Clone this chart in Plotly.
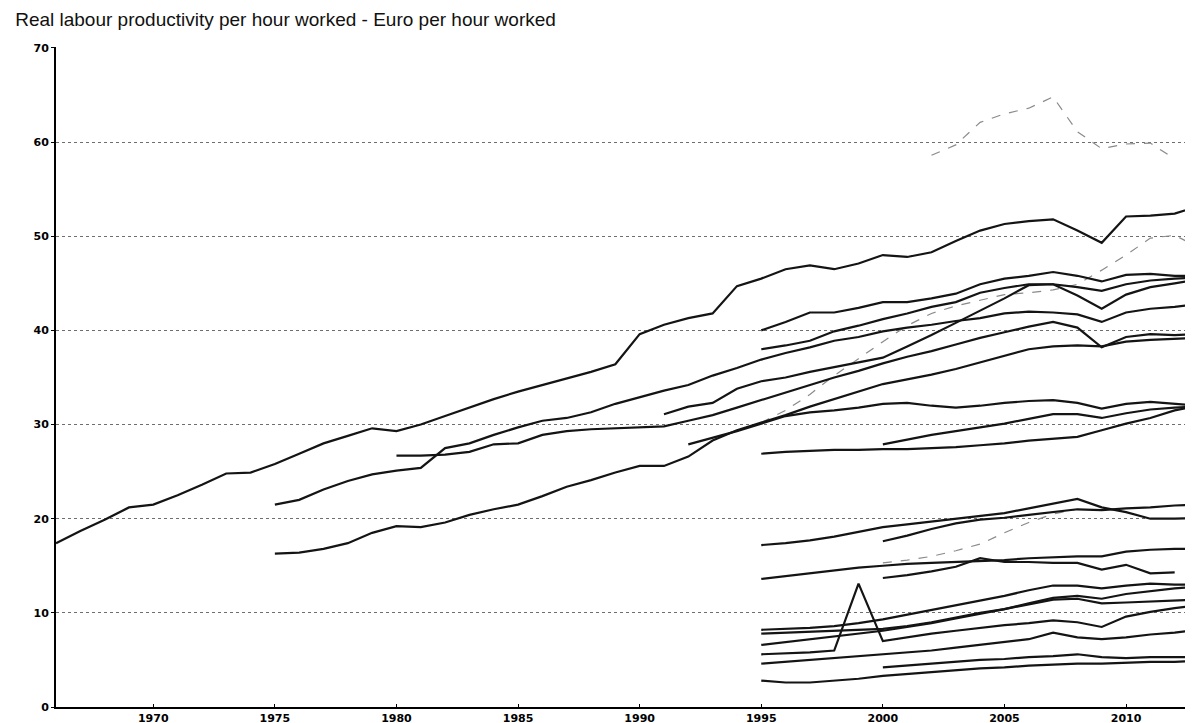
import plotly.graph_objects as go

# ─── DATA ─────────────────────────────────────────────
X_TICKS = [1970, 1975, 1980, 1985, 1990, 1995, 2000, 2005, 2010]
Y_TICKS = [0, 10, 20, 30, 40, 50, 60, 70]

# each series: first year + yearly values (Euro per hour worked)
a_start = 1966
a_vals = [17.4, 18.7, 19.9, 21.2, 21.5, 22.5, 23.6, 24.8, 24.9, 25.8,
          26.9, 28.0, 28.8, 29.6, 29.3, 30.0, 30.9, 31.8, 32.7, 33.5,
          34.2, 34.9, 35.6, 36.4, 39.6, 40.6, 41.3, 41.8, 44.7, 45.5,
          46.5, 46.9, 46.5, 47.1, 48.0, 47.8, 48.3, 49.5, 50.6, 51.3,
          51.6, 51.8, 50.6, 49.3, 52.1, 52.2, 52.4, 53.2]

b_start = 1995
b_vals = [40.0, 40.9, 41.9, 41.9, 42.4, 43.0, 43.0, 43.4, 43.9, 44.9,
          45.5, 45.8, 46.2, 45.8, 45.2, 45.9, 46.0, 45.8, 45.8]

c_start = 1995
c_vals = [38.0, 38.4, 38.9, 39.9, 40.5, 41.2, 41.8, 42.5, 43.0, 44.0,
          44.5, 44.9, 44.9, 44.6, 44.2, 44.9, 45.3, 45.5, 45.6]

d_start = 1975
d_vals = [21.5, 22.0, 23.1, 24.0, 24.7, 25.1, 25.4, 27.5, 28.0, 28.9,
          29.7, 30.4, 30.7, 31.3, 32.2, 32.9, 33.6, 34.2, 35.2, 36.0,
          36.9, 37.6, 38.2, 38.9, 39.3, 39.9, 40.3, 40.6, 41.0, 41.3,
          41.8, 42.0, 41.9, 41.7, 40.9, 41.9, 42.3, 42.5, 42.8]

s_start = 1991
s_vals = [31.1, 31.9, 32.3, 33.8, 34.6, 35.0, 35.6, 36.1, 36.6, 37.1,
          38.3, 39.5, 40.8, 42.1, 43.4, 44.8, 44.9, 43.7, 42.3, 43.8,
          44.6, 45.0, 45.4]

f_start = 1980
f_vals = [26.7, 26.7, 26.8, 27.1, 27.9, 28.0, 28.9, 29.3, 29.5, 29.6,
          29.7, 29.8, 30.4, 31.0, 31.8, 32.6, 33.4, 34.2, 35.0, 35.7,
          36.5, 37.2, 37.8, 38.5, 39.2, 39.8, 40.4, 40.9, 40.3, 38.2,
          39.3, 39.6, 39.5, 39.6]

g_start = 1975
g_vals = [16.3, 16.4, 16.8, 17.4, 18.5, 19.2, 19.1, 19.6, 20.4, 21.0,
          21.5, 22.4, 23.4, 24.1, 24.9, 25.6, 25.6, 26.6, 28.3, 29.4,
          30.2, 31.0, 31.9, 32.7, 33.5, 34.3, 34.8, 35.3, 35.9, 36.6,
          37.3, 38.0, 38.3, 38.4, 38.3, 38.8, 39.0, 39.1, 39.2]

t_start = 1992
t_vals = [27.9, 28.6, 29.3, 30.1, 30.9, 31.3, 31.5, 31.8, 32.2, 32.3,
          32.0, 31.8, 32.0, 32.3, 32.5, 32.6, 32.3, 31.7, 32.2, 32.4,
          32.2, 32.0]

u_start = 1995
u_vals = [26.9, 27.1, 27.2, 27.3, 27.3, 27.4, 27.4, 27.5, 27.6, 27.8,
          28.0, 28.3, 28.5, 28.7, 29.4, 30.1, 30.7, 31.5, 32.0]

v_start = 2000
v_vals = [27.9, 28.4, 28.9, 29.3, 29.7, 30.1, 30.6, 31.1, 31.1, 30.7,
          31.2, 31.6, 31.8, 31.9]

w_start = 2002  # light dashed, top
w_vals = [58.6, 59.7, 62.1, 63.0, 63.6, 64.8, 61.1, 59.3, 59.8, 59.9, 58.2]

i_start = 1995  # light dashed
i_vals = [30.2, 31.5, 33.2, 35.2, 37.0, 38.8, 40.5, 41.8, 42.6, 43.2,
          43.8, 44.0, 44.3, 44.9, 46.4, 48.0, 49.8, 50.1, 48.8]

h1_start = 1995
h1_vals = [17.2, 17.4, 17.7, 18.1, 18.6, 19.1, 19.4, 19.7, 20.0, 20.3,
           20.6, 21.1, 21.6, 22.1, 21.2, 20.7, 20.0, 20.0, 20.1]

h2_start = 2000
h2_vals = [17.6, 18.2, 18.9, 19.5, 19.9, 20.1, 20.4, 20.7, 21.0, 20.9,
           21.1, 21.2, 21.4, 21.5]

h3_start = 2000  # light dashed
h3_vals = [15.3, 15.6, 16.0, 16.6, 17.3, 18.5, 19.6, 20.5, 21.0]

h4_start = 1995
h4_vals = [13.6, 13.9, 14.2, 14.5, 14.8, 15.0, 15.2, 15.3, 15.4, 15.5,
           15.6, 15.8, 15.9, 16.0, 16.0, 16.5, 16.7, 16.8, 16.8]

h5_start = 2000
h5_vals = [13.7, 14.0, 14.4, 14.9, 15.8, 15.4, 15.4, 15.3, 15.3, 14.6,
           15.1, 14.2, 14.3]

l1_start = 1995
l1_vals = [8.2, 8.3, 8.4, 8.6, 8.9, 9.3, 9.8, 10.3, 10.8, 11.3,
           11.8, 12.4, 12.9, 12.9, 12.6, 12.9, 13.1, 13.0, 13.0]

l2_start = 1995
l2_vals = [7.8, 7.9, 8.0, 8.1, 8.2, 8.3, 8.6, 9.0, 9.5, 10.0,
           10.4, 10.9, 11.4, 11.5, 11.0, 11.1, 11.2, 11.3, 11.4]

l3_start = 1995
l3_vals = [6.6, 6.9, 7.2, 7.5, 7.8, 8.1, 8.5, 8.9, 9.4, 9.9,
           10.4, 11.0, 11.6, 11.8, 11.5, 12.0, 12.3, 12.6, 12.8]

l4_start = 1995  # the 1999 spike
l4_vals = [5.6, 5.7, 5.8, 6.0, 13.1, 7.0, 7.4, 7.8, 8.1, 8.4,
           8.7, 8.9, 9.2, 9.0, 8.5, 9.6, 10.1, 10.5, 10.8]

l5_start = 1995
l5_vals = [4.6, 4.8, 5.0, 5.2, 5.4, 5.6, 5.8, 6.0, 6.3, 6.6,
           6.9, 7.2, 7.9, 7.4, 7.2, 7.4, 7.7, 7.9, 8.2]

l6_start = 2000
l6_vals = [4.2, 4.4, 4.6, 4.8, 5.0, 5.1, 5.3, 5.4, 5.6, 5.3,
           5.2, 5.3, 5.3, 5.3]

l7_start = 1995
l7_vals = [2.8, 2.6, 2.6, 2.8, 3.0, 3.3, 3.5, 3.7, 3.9, 4.1,
           4.2, 4.4, 4.5, 4.6, 4.6, 4.7, 4.8, 4.8, 4.9]

SOLID = [
    (a_start, a_vals), (b_start, b_vals), (c_start, c_vals), (d_start, d_vals),
    (s_start, s_vals), (f_start, f_vals), (g_start, g_vals), (t_start, t_vals),
    (u_start, u_vals), (v_start, v_vals), (h1_start, h1_vals),
    (h2_start, h2_vals), (h4_start, h4_vals), (h5_start, h5_vals),
    (l1_start, l1_vals), (l2_start, l2_vals), (l3_start, l3_vals),
    (l4_start, l4_vals), (l5_start, l5_vals), (l6_start, l6_vals),
    (l7_start, l7_vals),
]
DASHED = [(w_start, w_vals), (i_start, i_vals), (h3_start, h3_vals)]

# ─── FIGURE ───────────────────────────────────────────
fig = go.Figure()

for start, vals in DASHED:
    fig.add_trace(go.Scatter(
        x=list(range(start, start + len(vals))), y=vals, mode="lines",
        line=dict(color="#8a8a8a", width=1.2, dash="dash"),
        hoverinfo="skip", showlegend=False))

for start, vals in SOLID:
    fig.add_trace(go.Scatter(
        x=list(range(start, start + len(vals))), y=vals, mode="lines",
        line=dict(color="#141414", width=2.2),
        hoverinfo="skip", showlegend=False))

tick_font = dict(family="DejaVu Sans", size=11, color="#000000", weight="bold")

fig.update_layout(
    width=1193, height=723,
    paper_bgcolor="white", plot_bgcolor="white",
    margin=dict(l=48, r=2, t=39, b=24),
    title=dict(text="Real labour productivity per hour worked - Euro per hour worked",
               x=0.006, xanchor="left", y=0.994, yanchor="top",
               font=dict(family="Liberation Sans", size=19, color="#111111")),
    xaxis=dict(range=[1966, 2013], tickvals=X_TICKS, showgrid=False,
               zeroline=False, showline=True, linecolor="#000000", linewidth=2,
               ticks="inside", ticklen=3, tickcolor="#000000",
               tickfont=tick_font),
    yaxis=dict(range=[0, 70.1], tickvals=Y_TICKS, showgrid=True,
               gridcolor="#6e6e6e", gridwidth=1, griddash="dot",
               zeroline=False, showline=True, linecolor="#000000", linewidth=2,
               ticks="outside", ticklen=3, tickcolor="#000000",
               tickfont=tick_font),
)

fig.write_html("out.html")
